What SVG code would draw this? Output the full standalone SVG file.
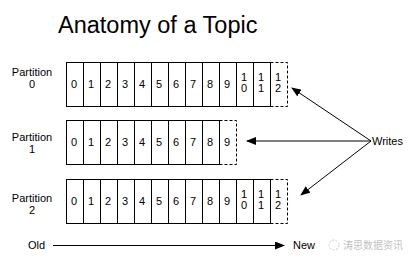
<svg xmlns="http://www.w3.org/2000/svg" width="416" height="267" viewBox="0 0 416 267">
<style>
text{font-family:"Liberation Sans",Arial,sans-serif;fill:#000}
.t{font-size:11px;text-anchor:middle}
.c{fill:#fff;stroke:#000;stroke-width:1}
.d{fill:none;stroke:#000;stroke-width:1;stroke-dasharray:3,2}
.l{fill:none;stroke:#000;stroke-width:1}
</style>
<defs>
<marker id="ah" markerWidth="10" markerHeight="8" refX="9" refY="4" orient="auto" markerUnits="userSpaceOnUse">
<path d="M0,0 L10,4 L0,8 z" fill="#000"/>
</marker>
</defs>
<rect width="416" height="267" fill="#fff"/>
<text x="58" y="33" style="font-size:23.5px">Anatomy of a Topic</text>

<g id="partition0">
<text class="t" x="32" y="76">Partition</text>
<text class="t" x="32" y="88">0</text>
<rect class="c" x="66.5" y="62.5" width="204" height="44"/>
<path class="l" d="M83.5,62.5V106.5M100.5,62.5V106.5M117.5,62.5V106.5M134.5,62.5V106.5M151.5,62.5V106.5M168.5,62.5V106.5M185.5,62.5V106.5M202.5,62.5V106.5M219.5,62.5V106.5M236.5,62.5V106.5M253.5,62.5V106.5"/>
<path class="d" d="M270.5,62.5H287.5V106.5H270.5"/>
<g class="t">
<text class="t" x="74" y="88">0</text><text class="t" x="91" y="88">1</text><text class="t" x="108" y="88">2</text><text class="t" x="125" y="88">3</text><text class="t" x="142" y="88">4</text><text class="t" x="159" y="88">5</text><text class="t" x="176" y="88">6</text><text class="t" x="193" y="88">7</text><text class="t" x="210" y="88">8</text><text class="t" x="227" y="88">9</text>
<text class="t" x="244" y="81">1</text><text class="t" x="244" y="92">0</text>
<text class="t" x="261" y="81">1</text><text class="t" x="261" y="92">1</text>
<text class="t" x="278" y="81">1</text><text class="t" x="278" y="92">2</text>
</g>
</g>

<g id="partition1">
<text class="t" x="32" y="141">Partition</text>
<text class="t" x="32" y="153">1</text>
<rect class="c" x="66.5" y="120.5" width="153" height="44"/>
<path class="l" d="M83.5,120.5V164.5M100.5,120.5V164.5M117.5,120.5V164.5M134.5,120.5V164.5M151.5,120.5V164.5M168.5,120.5V164.5M185.5,120.5V164.5M202.5,120.5V164.5"/>
<path class="d" d="M219.5,120.5H236.5V164.5H219.5"/>
<text class="t" x="74" y="146">0</text><text class="t" x="91" y="146">1</text><text class="t" x="108" y="146">2</text><text class="t" x="125" y="146">3</text><text class="t" x="142" y="146">4</text><text class="t" x="159" y="146">5</text><text class="t" x="176" y="146">6</text><text class="t" x="193" y="146">7</text><text class="t" x="210" y="146">8</text><text class="t" x="227" y="146">9</text>
</g>

<g id="partition2">
<text class="t" x="32" y="202">Partition</text>
<text class="t" x="32" y="214">2</text>
<rect class="c" x="66.5" y="179.5" width="204" height="44"/>
<path class="l" d="M83.5,179.5V223.5M100.5,179.5V223.5M117.5,179.5V223.5M134.5,179.5V223.5M151.5,179.5V223.5M168.5,179.5V223.5M185.5,179.5V223.5M202.5,179.5V223.5M219.5,179.5V223.5M236.5,179.5V223.5M253.5,179.5V223.5"/>
<path class="d" d="M270.5,179.5H287.5V223.5H270.5"/>
<text class="t" x="74" y="205">0</text><text class="t" x="91" y="205">1</text><text class="t" x="108" y="205">2</text><text class="t" x="125" y="205">3</text><text class="t" x="142" y="205">4</text><text class="t" x="159" y="205">5</text><text class="t" x="176" y="205">6</text><text class="t" x="193" y="205">7</text><text class="t" x="210" y="205">8</text><text class="t" x="227" y="205">9</text>
<text class="t" x="244" y="198">1</text><text class="t" x="244" y="209">0</text>
<text class="t" x="261" y="198">1</text><text class="t" x="261" y="209">1</text>
<text class="t" x="278" y="198">1</text><text class="t" x="278" y="209">2</text>
</g>

<g id="writes">
<text x="372" y="145" style="font-size:11px">Writes</text>
</g>

<g id="old"><text x="28" y="249" style="font-size:11px">Old</text></g>
<g id="new"><text x="293" y="249" style="font-size:11px">New</text></g>

<g id="connectors">
<line class="l" x1="371" y1="141" x2="292" y2="88" marker-end="url(#ah)"/>
<line class="l" x1="371" y1="141" x2="247" y2="141" marker-end="url(#ah)"/>
<line class="l" x1="371" y1="141" x2="301" y2="195" marker-end="url(#ah)"/>
<line class="l" x1="53" y1="245.5" x2="284" y2="245.5" marker-end="url(#ah)"/>
</g>

<g id="watermark" opacity="0.45">
<circle cx="334" cy="245" r="5" fill="none" stroke="#888" stroke-width="1" stroke-dasharray="2,1.5"/>
<text x="343" y="249" style="font-size:10px;fill:#777;font-family:'Noto Sans CJK SC',sans-serif">涛思数据资讯</text>
</g>
</svg>
